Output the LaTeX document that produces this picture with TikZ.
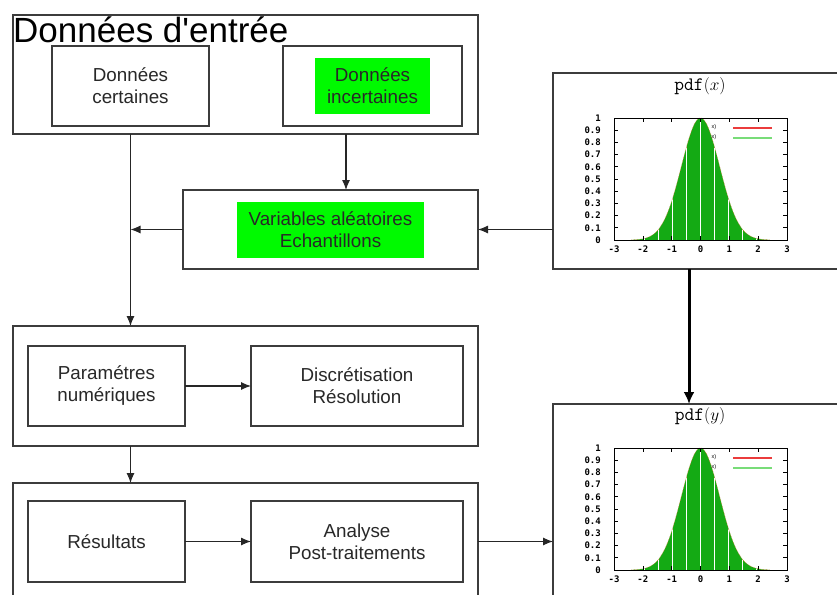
\documentclass[tikz,border=0pt]{standalone}
\usepackage{fontspec}
\setmainfont{Liberation Sans}
\newfontfamily\tickfont{DejaVu Sans Mono}
\usetikzlibrary{arrows.meta,calc}
\definecolor{linegray}{RGB}{60,60,60}
\definecolor{txtgray}{RGB}{40,40,40}
\definecolor{brightgreen}{RGB}{0,250,0}
\definecolor{plotgreen}{RGB}{20,170,20}
\definecolor{legred}{RGB}{235,60,60}
\definecolor{leggreen}{RGB}{120,220,120}
\definecolor{curveorange}{RGB}{220,110,40}
\tikzset{
  box/.style={draw=linegray, line width=1.1pt, inner sep=0pt, outer sep=0pt},
  gbox/.style={fill=brightgreen, inner sep=0pt, outer sep=0pt},
  txt/.style={text=txtgray, font=\fontsize{18.8}{22}\selectfont, align=center},
  arr/.style={draw=black!85, line width=1.1pt, -{Latex[length=10pt,width=8pt]}},
  bigarr/.style={draw=black, line width=3pt, -{Latex[length=12pt,width=11pt]}},
  ticklab/.style={font=\tickfont\bfseries\fontsize{9}{9}\selectfont, inner sep=0pt},
  pdftitle/.style={font=\fontsize{19}{22}\selectfont, inner sep=0pt},
}
\newcommand\pdfplot[3]{% #1 prefix, #2 y shift, #3 variable
\begin{scope}[shift={(0,#2)},
  declare function={px(\u)=700.5+28.83*\u; py(\v)=240-122*\v; gg(\u)=exp(-(\u*\u)/0.8712);}]
  \node[pdftitle] (#1title) at (700,86) {\texttt{pdf}$(#3)$};
  \fill[plotgreen] ({px(-2.4)},240) -- plot[domain=-2.4:2.4, samples=90] ({px(\x)},{py(gg(\x))}) -- ({px(2.4)},240) -- cycle;
  \begin{scope}
    \clip ({px(-2.4)},240) -- plot[domain=-2.4:2.4, samples=90] ({px(\x)},{py(gg(\x))}) -- ({px(2.4)},240) -- cycle;
    \foreach \k in {0,...,8} \draw[white, line width=0.9pt] ({px(-1.95+0.485*\k)},240) -- ++(0,-125);
  \end{scope}
  \draw[curveorange, line width=0.5pt, densely dotted] plot[domain=-2.4:2.4, samples=90] ({px(\x)},{py(gg(\x))});
  \draw[black, line width=0.8pt] (614,118) rectangle (787,240);
  \foreach \v in {0.1,0.2,...,0.95} {
    \draw[black, line width=0.7pt] (614,{py(\v)}) -- ++(4,0);
    \draw[black, line width=0.7pt] (787,{py(\v)}) -- ++(-4,0);
  }
  \foreach \u in {-2,-1,0,1,2} {
    \draw[black, line width=0.7pt] ({px(\u)},118) -- ++(0,4);
    \draw[black, line width=0.7pt] ({px(\u)},240) -- ++(0,-4);
  }
  \foreach \t [count=\i from 0] in {0,0.1,0.2,0.3,0.4,0.5,0.6,0.7,0.8,0.9,1}
    \node[ticklab, anchor=east] (#1y\i) at (601,{py(\i/10)}) {\t};
  \foreach \t [count=\i from -3] in {-3,-2,-1,0,1,2,3}
    \node[ticklab, anchor=north] (#1x\i) at ({px(\i)},246) {\t};
  \draw[legred, line width=1.3pt] (733,128) -- (772,128);
  \draw[leggreen, line width=1.3pt] (733,138) -- (772,138);
  \node[font=\fontsize{5.5}{5.5}\selectfont, inner sep=0pt] (#1la) at (714,127) {x)};
  \node[font=\fontsize{5.5}{5.5}\selectfont, inner sep=0pt] (#1lb) at (714,137) {x)};
\end{scope}}
\begin{document}
\begin{tikzpicture}[x=1pt, y=-1pt]
\useasboundingbox (0,0) rectangle (837,594);
\clip (0,0) rectangle (837,594);
\fill[white] (0,0) rectangle (837,594);

% block 1
\node[box, minimum width=465pt, minimum height=119pt] (in1) at (245.5,74.5) {};
\node[anchor=base west, inner sep=0pt, font=\fontsize{35}{40}\selectfont] (title) at (13,42) {Données d\textquotesingle entrée};
\node[box, minimum width=157pt, minimum height=80pt, txt] (cert) at (130.5,86) {Données\\certaines};
\node[box, minimum width=179pt, minimum height=80pt] (incert) at (372.5,86) {};
\node[gbox, minimum width=115pt, minimum height=56pt, txt] (incertg) at (372.5,86) {Données\\incertaines};

% variables
\node[box, minimum width=295pt, minimum height=79pt] (var) at (330.5,229.5) {};
\node[gbox, minimum width=187pt, minimum height=56pt, txt] (varg) at (330.5,230) {Variables aléatoires\\Echantillons};

% block 2
\node[box, minimum width=465pt, minimum height=120pt] (out2) at (245.5,386) {};
\node[box, minimum width=157pt, minimum height=80pt, txt] (param) at (106.5,386) {Paramétres\\numériques};
\node[box, minimum width=212pt, minimum height=80pt, txt] (disc) at (357,386) {Discrétisation\\Résolution};

% block 3
\node[box, minimum width=465pt, minimum height=120pt] (out3) at (245.5,543) {};
\node[box, minimum width=157pt, minimum height=81pt, txt] (res) at (106.5,541.5) {Résultats};
\node[box, minimum width=212pt, minimum height=81pt, txt] (ana) at (357,541.5) {Analyse\\Post-traitements};

% pdf boxes
\node[box, minimum width=297pt, minimum height=196pt] (pdfx) at (701.5,171) {};
\node[box, minimum width=297pt, minimum height=206pt] (pdfy) at (701.5,507) {};
\pdfplot{px}{0}{x}
\pdfplot{py}{330}{y}

% connectors
\coordinate (c1) at (346,0);
\coordinate (c2) at (689,0);
\draw[arr] (in1.south -| cert.south) -- (out2.north -| cert.south);
\draw[arr] (in1.south -| c1) -- (var.north -| c1);
\draw[arr] (var.west) -- (var.west -| cert.south);
\draw[arr] (pdfx.west |- var.east) -- (var.east);
\draw[bigarr] (pdfx.south -| c2) -- (pdfy.north -| c2);
\draw[arr] (param.east) -- (disc.west);
\draw[arr] (out2.south -| cert.south) -- (out3.north -| cert.south);
\draw[arr] (res.east) -- (ana.west);
\draw[arr] (res.east -| out3.east) -- (res.east -| pdfy.west);
\end{tikzpicture}
\end{document}
